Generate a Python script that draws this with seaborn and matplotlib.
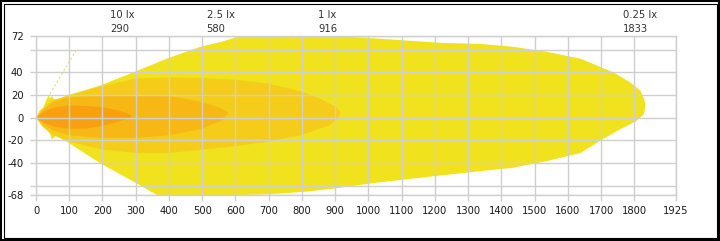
import matplotlib
matplotlib.use("Agg")
import matplotlib.pyplot as plt
import seaborn as sns
from matplotlib.patches import Rectangle

# ---------------- data ----------------
x_ticks = [0, 100, 200, 300, 400, 500, 600, 700, 800, 900, 1000, 1100, 1200,
           1300, 1400, 1500, 1600, 1700, 1800, 1925]
y_ticks = [72, 40, 20, 0, -20, -40, -68]
y_grid_extra = [60, -60]

lux_labels = ["10 lx", "2.5 lx", "1 lx", "0.25 lx"]
lux_reach = [290, 580, 916, 1833]

# 0.25 lx isolux contour (outer)
lx025_x = [0, 10, 22, 30, 38, 42, 48, 55, 70, 92, 193, 293, 393, 494, 560, 614,
           906, 1015, 1116, 1216, 1337, 1436, 1538, 1638, 1737, 1788, 1818, 1830,
           1833, 1828, 1805, 1758, 1698, 1638, 1538, 1436, 1337, 1195, 1015, 906,
           815, 704, 614, 364, 292, 193, 92, 60, 47, 42, 20, 0]
lx025_y = [0, 6, 9, 15, 20, 17, 19, 16, 17, 19.5, 28.4, 40, 52, 62.5, 67, 72,
           72, 70, 68, 66, 65, 62.5, 58, 52, 40, 31, 24, 16,
           10, 3, -3, -10, -20, -31, -38, -44, -47, -51.5, -57.5, -62,
           -65, -67.3, -68, -68, -56, -40, -21, -16, -19, -14, -6, 0]

# 1 lx isolux contour
lx1_x = [0, 20, 50, 100, 200, 300, 400, 500, 600, 700, 800, 860, 900, 916,
         905, 880, 800, 700, 600, 500, 400, 300, 200, 100, 50, 20, 0]
lx1_y = [0, 8, 15.5, 19.5, 28, 34.5, 35.5, 35, 33.5, 30, 23, 16, 10, 5,
         -2, -7, -15, -21, -25, -28, -31, -31, -28, -21, -15, -8, 0]

# 2.5 lx isolux contour
lx25_x = [0, 20, 50, 100, 200, 300, 400, 450, 500, 550, 580,
          560, 500, 400, 300, 200, 100, 50, 20, 0]
lx25_y = [0, 6.4, 13.7, 18, 19.5, 20, 19, 16.6, 13.7, 9.3, 4.4,
          -2.3, -9.6, -15.5, -17.8, -17.8, -15.5, -11, -5.2, 0]

# 10 lx isolux contour
lx10_x = [0, 30, 60, 100, 150, 200, 250, 290, 280, 250, 200, 150, 100, 60, 30, 0]
lx10_y = [0, 6.4, 9.3, 10.8, 10.5, 9.3, 6.4, 2, -0.3, -3.2, -7.3, -9.6, -9.6, -8.2, -5.2, 0]

# faint aiming line near the source
aim_x = [42, 122]
aim_y = [21, 60]

# ---------------- style ----------------
sns.set_style("whitegrid", {"grid.color": "#CFCFCF", "axes.edgecolor": "#CFCFCF"})
plt.rcParams["font.family"] = ["DejaVu Sans"]

fig = plt.figure(figsize=(7.2, 2.41), dpi=100)
ax = fig.add_axes([36 / 720, 1 - 195 / 241, 640 / 720, 159 / 241])

colors = ["#F0E31E", "#F5CC1A", "#F7B816", "#F9A012"]
for xs, ys, c in zip([lx025_x, lx1_x, lx25_x, lx10_x],
                     [lx025_y, lx1_y, lx25_y, lx10_y], colors):
    ax.fill(xs, ys, color=c, lw=0, zorder=1)

sns.lineplot(x=aim_x, y=aim_y, ax=ax, color="#E6DC7A", lw=0.8,
             linestyle=(0, (2, 2)), zorder=3)

ax.set_xlim(0, 1925)
ax.set_ylim(-68, 72)
ax.set_xticks(x_ticks)
ax.set_xticklabels([str(v) for v in x_ticks])
ax.set_yticks(y_ticks)
ax.set_yticklabels([str(v) for v in y_ticks])
ax.set_yticks(y_grid_extra, minor=True)
ax.set_axisbelow(False)
ax.grid(True, which="both", axis="y", color="#CFCFCF", lw=1, zorder=2.5)
ax.grid(True, which="major", axis="x", color="#CFCFCF", lw=1, zorder=2.5)
ax.tick_params(axis="both", which="both", length=4, width=1, color="#CFCFCF",
               labelsize=7.2, labelcolor="#1a1a1a", direction="out")
ax.tick_params(axis="y", which="both", left=True, pad=5)
ax.tick_params(axis="x", which="both", bottom=True, pad=4)
for s in ax.spines.values():
    s.set_color("#CFCFCF")
    s.set_linewidth(1)

for lab, r in zip(lux_labels, lux_reach):
    ax.annotate(lab, xy=(r, 1), xycoords=("data", "axes fraction"),
                xytext=(-16, 15), textcoords="offset points",
                ha="left", va="center", fontsize=7.2, color="#333333")
    ax.annotate(str(r), xy=(r, 1), xycoords=("data", "axes fraction"),
                xytext=(-16, 5), textcoords="offset points",
                ha="left", va="center", fontsize=7.2, color="#333333")

# double frame around the figure
fig.patches.append(Rectangle((0.75 / 720, 0.75 / 241), 718.5 / 720, 239.5 / 241,
                             transform=fig.transFigure, fill=False,
                             edgecolor="black", lw=1.5))
fig.patches.append(Rectangle((3.5 / 720, 3.5 / 241), 713 / 720, 234 / 241,
                             transform=fig.transFigure, fill=False,
                             edgecolor="black", lw=0.8))

fig.savefig("out.png", dpi=100)
